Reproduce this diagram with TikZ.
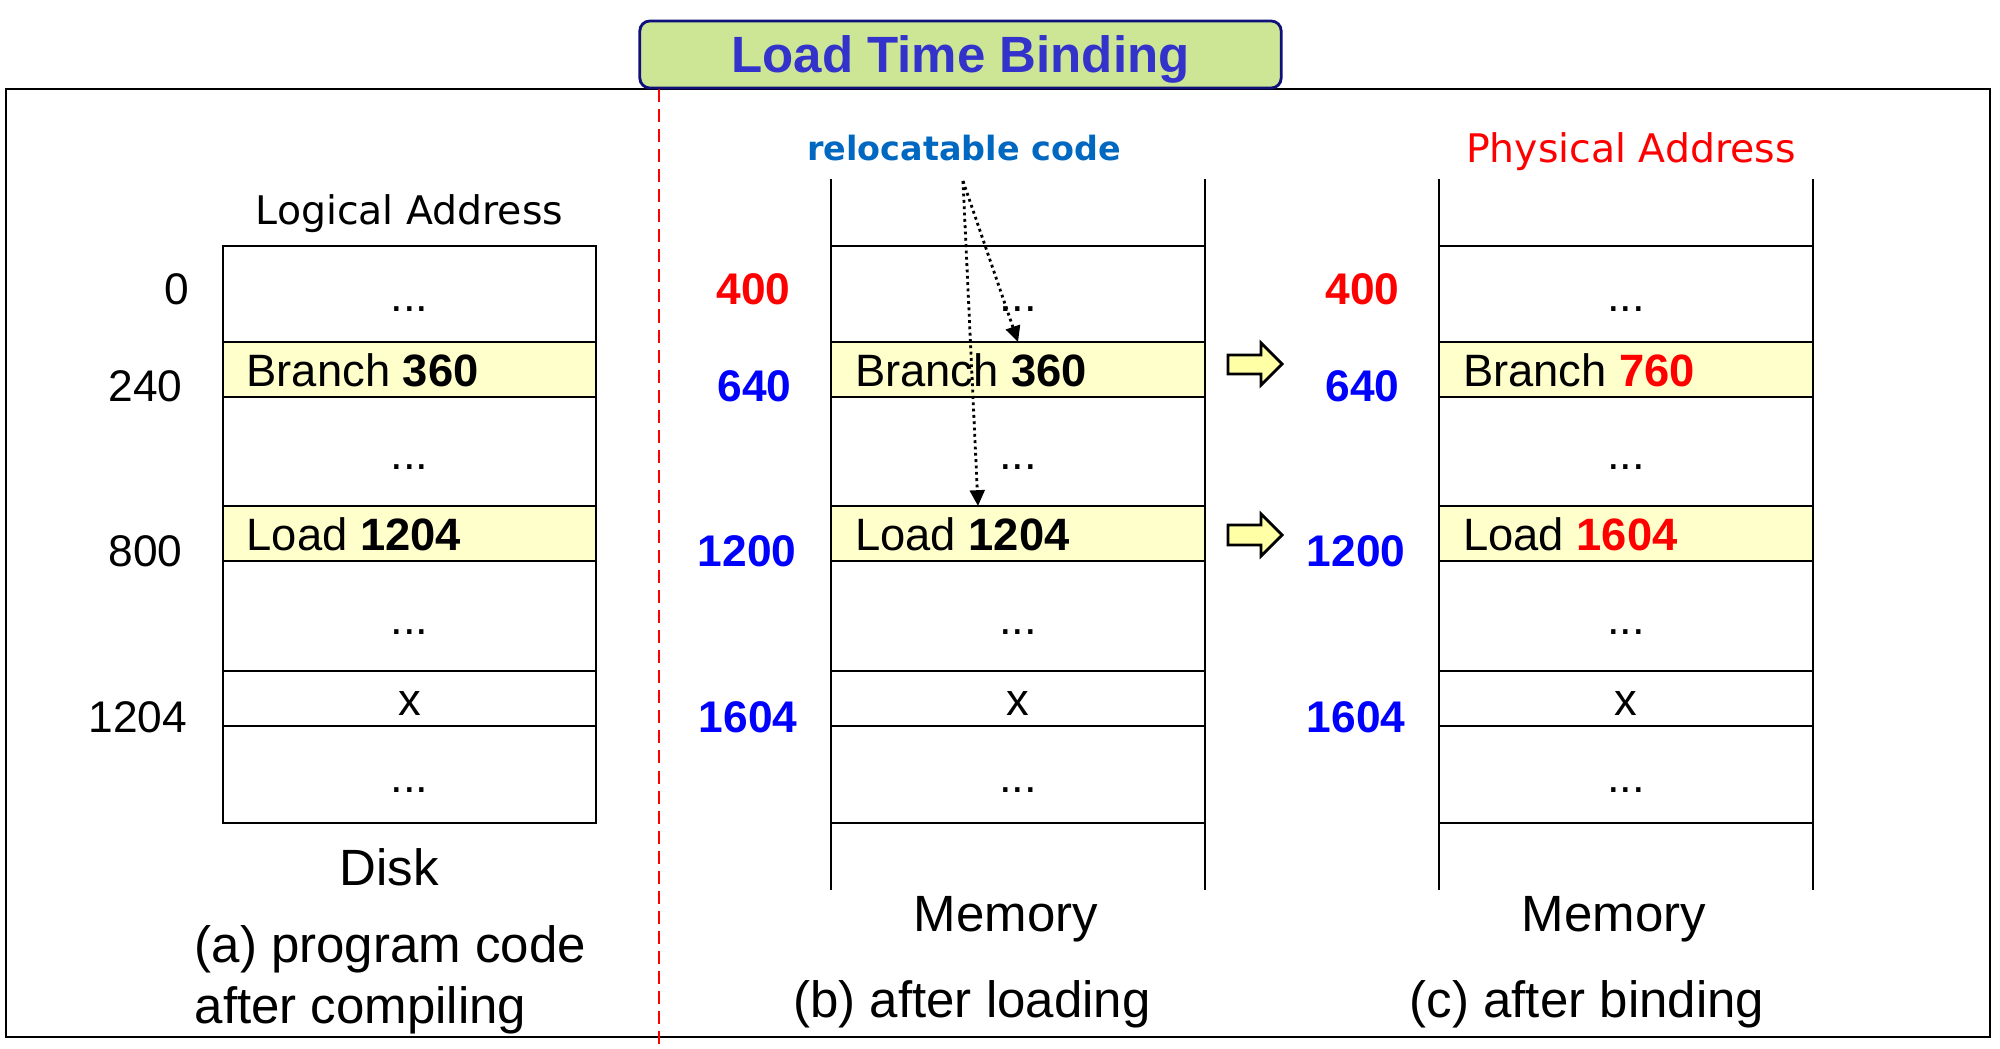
\documentclass[tikz,border=0pt]{standalone}
\usepackage{fontspec}
\setmainfont{Liberation Sans}
\newfontfamily\dejavu{DejaVu Sans}
\usetikzlibrary{arrows.meta,calc}
\definecolor{cellyellow}{HTML}{FFFFCC}
\definecolor{arrowyellow}{HTML}{FFFFA6}
\definecolor{titlefill}{HTML}{CCE696}
\definecolor{titleblue}{HTML}{3333CC}
\definecolor{titleedge}{HTML}{10107A}
\definecolor{relocblue}{HTML}{0068C0}
\definecolor{addrred}{HTML}{FF0000}
\definecolor{addrblue}{HTML}{0000FF}
\begin{document}
\begin{tikzpicture}[x=0.01cm,y=-0.01cm,
  cell/.style={draw=black,line width=0.6pt,minimum width=3.73cm,inner sep=0pt,outer sep=0pt},
  cellline/.style={draw=black,line width=0.6pt},
  ctext/.style={anchor=base,font=\fontsize{12.9}{15}\selectfont,inner sep=0pt},
  ltext/.style={anchor=base west,font=\fontsize{12.9}{15}\selectfont,inner sep=0pt},
  addr/.style={anchor=base east,font=\fontsize{12.6}{15}\selectfont,inner sep=0pt},
  raddr/.style={addr,font=\fontsize{12.6}{15}\selectfont\bfseries,text=addrred},
  baddr/.style={addr,font=\fontsize{12.6}{15}\selectfont\bfseries,text=addrblue},
  big/.style={anchor=base,font=\fontsize{14.5}{17}\selectfont,inner sep=0pt},
  bigl/.style={big,anchor=base west},
  header/.style={anchor=base,font=\dejavu\fontsize{11.2}{13}\selectfont,inner sep=0pt},
  dotarrow/.style={line width=0.8pt,dash pattern=on 0.8pt off 1pt,-{Triangle[length=4.5pt,width=4.2pt]}},
  yarrow/.style={draw=black,line width=0.8pt,fill=arrowyellow,line join=miter},
  titlebox/.style={draw=titleedge,line width=0.8pt,fill=titlefill,rounded corners=0.1cm,
    minimum width=6.41cm,minimum height=0.67cm,inner sep=0pt,text=titleblue,
    font=\fontsize{14.5}{17}\selectfont\bfseries,text height=10.4pt,text depth=0pt}
]
\useasboundingbox (0,0) rectangle (2000,1049);
% outer frame and divider
\draw[line width=0.8pt] (6,89) rectangle (1990,1037);
\draw[addrred,line width=0.6pt,dash pattern=on 3.7pt off 2pt] (659,89) -- (659,1049);
% title
\node[titlebox] (title) at (960.5,54.5) {Load Time Binding};
% cells
\foreach \col/\xc in {a/409.5,b/1018,c/1626}{
  \foreach \i/\yc/\h/\fc in {1/294/96/white,2/369.5/55/cellyellow,3/451.5/109/white,4/533.5/55/cellyellow,5/616/110/white,6/698.5/55/white,7/774.5/97/white}{
    \node[cell,fill=\fc,minimum height=\h*0.01cm] (\col\i) at (\xc,\yc) {};
  }
  \node[ctext] at ($(\col1)+(0,18)$) {...};
  \node[ctext] at ($(\col3)+(0,18)$) {...};
  \node[ctext] at ($(\col5)+(0,18)$) {...};
  \node[ctext] at ($(\col6)+(0,17)$) {x};
  \node[ctext] at ($(\col7)+(0,18)$) {...};
}
% open memory columns
\foreach \col in {b,c}{
  \draw[cellline] ($(\col1.north west)+(0,-67)$) -- ($(\col7.south west)+(0,67)$);
  \draw[cellline] ($(\col1.north east)+(0,-67)$) -- ($(\col7.south east)+(0,67)$);
}
% cell contents
\node[ltext] at ($(a2.west)+(23,17)$) {Branch \textbf{360}};
\node[ltext] at ($(a4.west)+(23,17)$) {Load \textbf{1204}};
\node[ltext] at ($(b2.west)+(23,17)$) {Branch \textbf{360}};
\node[ltext] at ($(b4.west)+(23,17)$) {Load \textbf{1204}};
\node[ltext] at ($(c2.west)+(23,17)$) {Branch \textbf{\color{addrred}760}};
\node[ltext] at ($(c4.west)+(23,17)$) {Load \textbf{\color{addrred}1604}};
% addresses (a)
\node[addr] (la0) at (190,305) {0};
\node[addr] (la1) at (183,402) {240};
\node[addr] (la2) at (183,566) {800};
\node[addr] (la3) at (188,732) {1204};
% addresses (b)
\node[raddr] (lb0) at (791,305) {400};
\node[baddr] (lb1) at (792,402) {640};
\node[baddr] (lb2) at (797,566) {1200};
\node[baddr] (lb3) at (798,732) {1604};
% addresses (c)
\node[raddr] (lc0) at (1400,305) {400};
\node[baddr] (lc1) at (1400,402) {640};
\node[baddr] (lc2) at (1406,566) {1200};
\node[baddr] (lc3) at (1406,732) {1604};
% headers
\node[header] (logical) at (409.5,225) {Logical Address};
\node[header,text=addrred] (physical) at (1631,163) {Physical Address};
\node[header,font=\dejavu\fontsize{9.5}{11}\selectfont\bfseries,text=relocblue] (reloc) at (964,161) {relocatable code};
% dotted arrows
\coordinate (rc) at (963,181);
\draw[dotarrow] (rc) -- (b2.north);
\draw[dotarrow] (rc) -- ($(b4.north)+(-40,0)$);
% yellow arrows
\draw[yarrow] (1228,355) -- (1261,355) -- (1261,343) -- (1282,364) -- (1261,385) -- (1261,374) -- (1228,374) -- cycle;
\draw[yarrow] (1228,525) -- (1261,525) -- (1261,514) -- (1282,535) -- (1261,556) -- (1261,545) -- (1228,545) -- cycle;
% captions
\node[big] (disk) at (389,885) {Disk};
\node[bigl] (capa1) at (194,962) {(a) program code};
\node[bigl] (capa2) at (194,1023) {after compiling};
\node[big] (memb) at (1006,931) {Memory};
\node[big] (memc) at (1614,931) {Memory};
\node[big] (capb) at (972,1017) {(b) after loading};
\node[big] (capc) at (1587,1017) {(c) after binding};
\end{tikzpicture}
\end{document}
